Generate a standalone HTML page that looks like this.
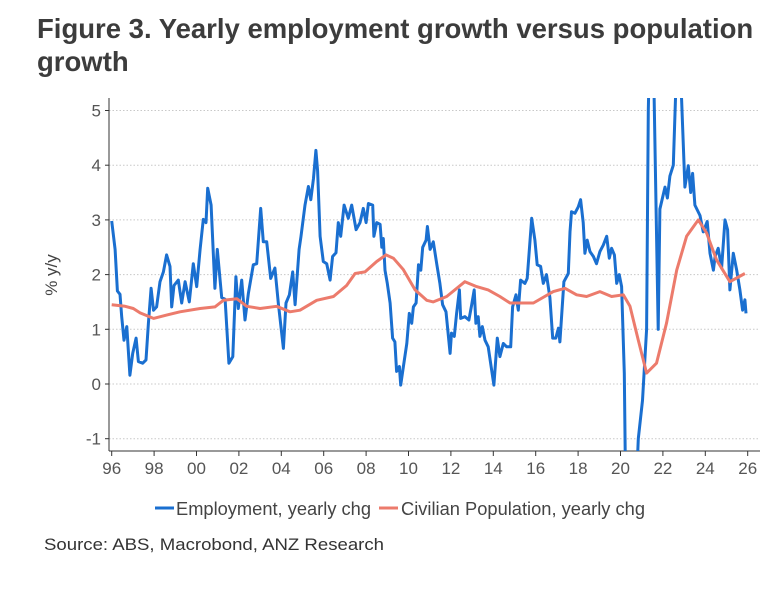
<!DOCTYPE html>
<html><head><meta charset="utf-8">
<style>
html,body{margin:0;background:#fff;width:778px;height:593px;overflow:hidden;font-family:"Liberation Sans",sans-serif;}
.title{position:absolute;left:37px;top:12px;font-size:27.5px;font-weight:bold;color:#3c3c3c;line-height:33px;white-space:nowrap;}
svg{position:absolute;left:0;top:0;}
</style></head><body>
<div class="title">Figure 3. Yearly employment growth versus population<br>growth</div>
<svg id="chart" width="778" height="593"></svg>
<script>
const yTicks=[-1,0,1,2,3,4,5];
const xTickYears=[1996,1998,2000,2002,2004,2006,2008,2010,2012,2014,2016,2018,2020,2022,2024,2026];
const xTickLabels=["96","98","00","02","04","06","08","10","12","14","16","18","20","22","24","26"];
const empYears=[1996.00,1996.16,1996.27,1996.39,1996.47,1996.58,1996.71,1996.86,1996.99,1997.15,1997.26,1997.46,1997.62,1997.73,1997.86,1997.97,1998.12,1998.28,1998.44,1998.59,1998.75,1998.83,1998.94,1999.14,1999.30,1999.46,1999.66,1999.85,2000.01,2000.17,2000.32,2000.45,2000.53,2000.69,2000.87,2000.98,2001.19,2001.35,2001.53,2001.71,2001.86,2001.97,2002.13,2002.29,2002.45,2002.68,2002.84,2003.03,2003.15,2003.31,2003.50,2003.70,2003.86,2004.10,2004.22,2004.38,2004.54,2004.65,2004.84,2004.93,2005.12,2005.28,2005.39,2005.52,2005.63,2005.71,2005.83,2005.98,2006.14,2006.30,2006.42,2006.58,2006.69,2006.80,2006.96,2007.16,2007.32,2007.53,2007.71,2007.87,2008.00,2008.11,2008.31,2008.37,2008.50,2008.66,2008.74,2008.81,2008.89,2009.00,2009.13,2009.25,2009.36,2009.44,2009.57,2009.63,2009.76,2009.92,2010.04,2010.15,2010.23,2010.36,2010.47,2010.58,2010.67,2010.83,2010.89,2011.02,2011.17,2011.33,2011.48,2011.61,2011.77,2011.96,2012.03,2012.16,2012.27,2012.40,2012.46,2012.66,2012.85,2012.98,2013.10,2013.18,2013.29,2013.37,2013.48,2013.61,2013.76,2013.92,2014.03,2014.19,2014.31,2014.47,2014.63,2014.82,2014.91,2015.07,2015.18,2015.29,2015.49,2015.60,2015.81,2015.96,2016.07,2016.23,2016.36,2016.51,2016.67,2016.80,2016.95,2017.07,2017.14,2017.33,2017.54,2017.62,2017.69,2017.85,2018.01,2018.12,2018.24,2018.32,2018.43,2018.56,2018.72,2018.87,2019.03,2019.19,2019.35,2019.47,2019.58,2019.71,2019.82,2019.94,2020.05,2020.18,2020.29,2020.45,2020.68,2020.84,2021.04,2021.23,2021.31,2021.42,2021.55,2021.78,2021.86,2022.10,2022.21,2022.33,2022.49,2022.62,2022.73,2022.88,2023.04,2023.20,2023.31,2023.40,2023.51,2023.75,2023.90,2024.09,2024.22,2024.38,2024.46,2024.61,2024.77,2024.93,2025.05,2025.16,2025.32,2025.48,2025.63,2025.76,2025.87,2025.92];
const empValues=[2.98,2.46,1.7,1.64,1.23,0.8,1.05,0.16,0.56,0.84,0.41,0.38,0.44,1.11,1.75,1.35,1.41,1.87,2.05,2.36,2.15,1.41,1.8,1.9,1.48,1.87,1.5,2.2,1.78,2.46,3.01,2.95,3.58,3.27,1.75,2.46,1.58,1.55,0.38,0.5,1.96,1.38,1.9,1.17,1.66,2.18,2.2,3.21,2.6,2.6,1.93,2.12,1.48,0.65,1.48,1.63,2.05,1.45,2.46,2.7,3.27,3.61,3.37,3.76,4.27,3.9,2.7,2.24,2.2,1.9,2.33,2.4,2.95,2.7,3.27,3.03,3.27,2.82,2.95,3.21,2.95,3.3,3.27,2.7,2.95,2.92,2.5,2.66,2.08,1.84,1.48,0.84,0.77,0.23,0.32,-0.02,0.32,0.74,1.29,1.11,1.41,1.48,2.18,2.08,2.5,2.63,2.88,2.46,2.6,2.2,1.84,1.45,1.32,0.56,0.93,0.87,1.29,1.72,1.2,1.23,1.17,1.45,1.72,1.11,1.23,0.87,1.05,0.8,0.68,0.26,-0.02,0.84,0.5,0.74,0.68,0.68,1.41,1.63,1.35,1.9,1.84,1.93,3.03,2.63,2.18,2.15,1.84,2.0,1.58,0.84,0.84,1.02,0.77,1.87,2.02,2.78,3.15,3.12,3.24,3.37,2.95,2.39,2.63,2.42,2.33,2.2,2.42,2.54,2.7,2.3,2.48,2.36,1.84,2.0,1.78,0.2,-3.5,-4.6,-2.5,-1.0,-0.3,1.0,5,7,6,1.0,3.2,3.6,3.4,3.8,4.0,5.5,6.3,5.2,3.6,3.99,3.5,3.85,3.27,3.08,2.78,2.97,2.39,2.08,2.33,2.48,2.12,3.0,2.82,1.72,2.39,2.08,1.72,1.35,1.54,1.29];
const popYears=[1996.0,1996.63,1997.02,1997.34,1997.97,1998.59,1999.22,2000.17,2000.87,2001.27,2001.90,2002.37,2003.0,2003.78,2004.41,2004.88,2005.67,2006.46,2007.08,2007.48,2007.95,2008.5,2008.94,2009.29,2009.76,2010.31,2010.86,2011.17,2011.80,2012.66,2013.21,2013.76,2014.31,2014.79,2015.89,2016.83,2017.38,2017.93,2018.40,2019.03,2019.58,2020.13,2020.45,2020.84,2021.23,2021.70,2022.17,2022.65,2023.12,2023.67,2024.06,2024.53,2025.16,2025.87];
const popValues=[1.45,1.42,1.38,1.3,1.2,1.26,1.32,1.38,1.41,1.53,1.56,1.42,1.38,1.42,1.32,1.35,1.53,1.6,1.8,2.02,2.05,2.24,2.36,2.3,2.09,1.72,1.53,1.5,1.6,1.87,1.78,1.72,1.6,1.48,1.48,1.69,1.75,1.63,1.6,1.69,1.6,1.63,1.42,0.8,0.2,0.38,1.11,2.08,2.7,3.0,2.76,2.27,1.87,2.02];

const NS="http://www.w3.org/2000/svg";
const svg=document.getElementById('chart');
const L=109,R=760,T=98,B=451;
const X=yr=>111.7+(yr-1996)*21.2;
const Y=v=>384-v*54.7;
const FF='Liberation Sans, sans-serif';
function mk(tag,attrs,parent){const e=document.createElementNS(NS,tag);for(const k in attrs)e.setAttribute(k,attrs[k]);(parent||svg).appendChild(e);return e;}
const defs=mk('defs',{});
const cp=mk('clipPath',{id:'clip'},defs);
mk('rect',{x:L,y:T,width:R-L,height:B-T},cp);
yTicks.forEach(t=>{
  const g=mk('line',{x1:L,x2:R,y1:Y(t),y2:Y(t),stroke:'#c8c8c8','stroke-dasharray':'1.5,2','stroke-width':1});
  
  
  mk('line',{x1:L-4,x2:L,y1:Y(t),y2:Y(t),stroke:'#333'});
  const tx=mk('text',{x:L-8,y:Y(t)+6,'text-anchor':'end','font-size':17,fill:'#555','font-family':FF});
  tx.textContent=String(t);
  
  
});
mk('line',{x1:L,x2:L,y1:T,y2:B,stroke:'#333'});
mk('line',{x1:L,x2:R,y1:B,y2:B,stroke:'#333'});
xTickYears.forEach((yr,i)=>{
  mk('line',{x1:X(yr),x2:X(yr),y1:B,y2:B+5,stroke:'#333'});
  const tx=mk('text',{x:X(yr),y:B+23,'text-anchor':'middle','font-size':17,fill:'#555','font-family':FF});
  tx.textContent=xTickLabels[i];
  
  
});
const yl=mk('text',{x:0,y:0,transform:'translate(57,275) rotate(-90)','text-anchor':'middle','font-size':17,fill:'#444','font-family':FF});
yl.textContent='% y/y';


function path(xs,vs){return xs.map((x,i)=>(i?'L':'M')+X(x).toFixed(1)+','+Y(vs[i]).toFixed(1)).join('');}
const emp=mk('path',{d:path(empYears,empValues),fill:'none',stroke:'#1a6fd0','stroke-width':3,'stroke-linejoin':'round','clip-path':'url(#clip)'});


const pop=mk('path',{d:path(popYears,popValues),fill:'none',stroke:'#ec7b6c','stroke-width':3,'stroke-linejoin':'round','clip-path':'url(#clip)'});


// legend
const l1=mk('line',{x1:155,x2:174,y1:508,y2:508,stroke:'#1a6fd0','stroke-width':3});


const t1=mk('text',{x:176,y:515,'font-size':18,fill:'#444','font-family':FF,textLength:195,lengthAdjust:'spacingAndGlyphs'});
t1.textContent='Employment, yearly chg';


const l2=mk('line',{x1:379,x2:398,y1:508,y2:508,stroke:'#ec7b6c','stroke-width':3});


const t2=mk('text',{x:401,y:515,'font-size':18,fill:'#444','font-family':FF,textLength:244,lengthAdjust:'spacingAndGlyphs'});
t2.textContent='Civilian Population, yearly chg';


const src=mk('text',{x:44,y:550,'font-size':17,fill:'#333','font-family':FF,textLength:340,lengthAdjust:'spacingAndGlyphs'});
src.textContent='Source: ABS, Macrobond, ANZ Research';


</script>
</body></html>
